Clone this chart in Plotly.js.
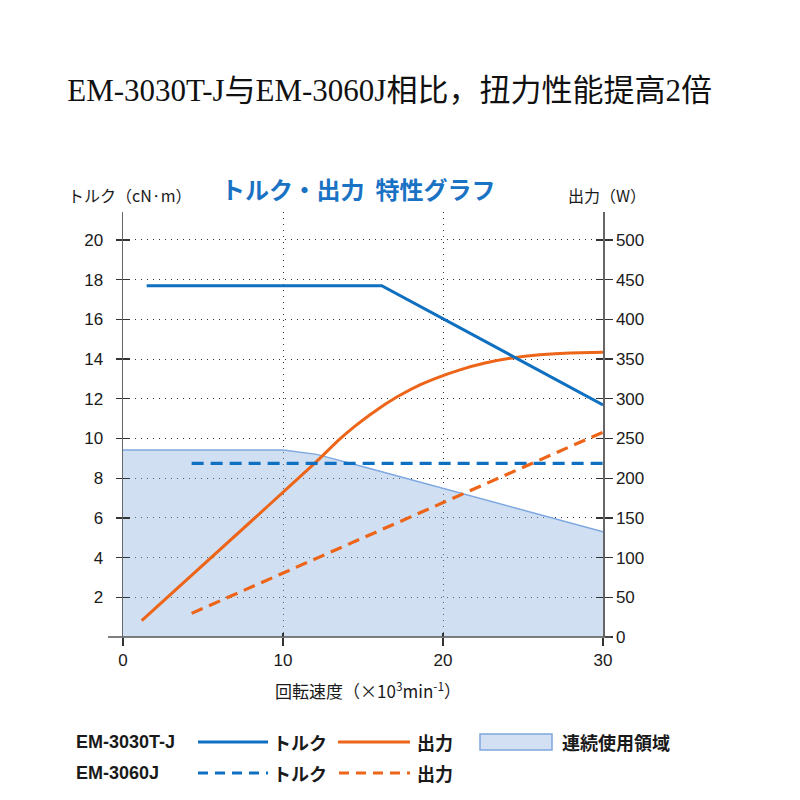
<!DOCTYPE html>
<html>
<head>
<meta charset="utf-8">
<script src="https://cdn.plot.ly/plotly-3.0.1.min.js"></script>
<style>html,body{margin:0;padding:0;background:#fff;}#chart{width:800px;height:800px;}</style>
</head>
<body>
<div id="chart"></div>
<script>
// ---- data (speed in x10^3 min^-1) ----
var areaSpeed = [0, 10.02, 12.1, 15.02, 30];
var areaTorque = [9.42, 9.42, 9.2, 8.58, 5.3];          // cN·m, continuous duty region

var tqSolidSpeed = [1.48, 16.17, 30];
var tqSolidVal   = [17.7, 17.7, 11.69];                 // EM-3030T-J torque (cN·m)

var pwSolidSpeed = [1.17, 9.06, 11.94, 13.56, 14.5, 15.44, 16.38, 17.31, 18.56, 19.5, 21.06, 22.63, 24.19, 26.06, 27.94, 30];
var pwSolidVal   = [20.5, 165, 218, 249.4, 265.5, 280, 293, 304.5, 317.5, 325.5, 336.5, 345, 351, 355.5, 357.6, 358.6]; // EM-3030T-J output (W)

var tqDashSpeed = [4.29, 30];
var tqDashVal   = [8.75, 8.75];                          // EM-3060J torque (cN·m)

var pwDashSpeed = [4.29, 30];
var pwDashVal   = [29.8, 258];                           // EM-3060J output (W)

var xTicks = [0, 10, 20, 30];
var yLeftTicks = [2, 4, 6, 8, 10, 12, 14, 16, 18, 20];
var yRightTicks = [0, 50, 100, 150, 200, 250, 300, 350, 400, 450, 500];

// ---- style ----
var BLUE = '#0f6fc0';
var ORANGE = '#ec6519';
var TXT = '#1a1a1a';
var SANS = 'Liberation Sans, Arial, sans-serif';
var JP = 'Noto Sans CJK JP, Noto Sans CJK SC, sans-serif';
var yMax = 21.41;
var y2Max = yMax * 25;

var traces = [
  {x: areaSpeed, y: areaTorque, xaxis: 'x', yaxis: 'y', type: 'scatter', mode: 'lines',
   fill: 'tozeroy', fillcolor: 'rgba(140,175,226,0.4)',
   line: {color: 'rgb(125,168,224)', width: 1.5}, hoverinfo: 'skip'},
  {x: tqDashSpeed, y: tqDashVal, xaxis: 'x2', yaxis: 'y3', type: 'scatter', mode: 'lines',
   line: {color: BLUE, width: 3.2, dash: '12px,7px'}},
  {x: pwDashSpeed, y: pwDashVal, xaxis: 'x2', yaxis: 'y4', type: 'scatter', mode: 'lines',
   line: {color: ORANGE, width: 3.2, dash: '12px,7px'}},
  {x: pwSolidSpeed, y: pwSolidVal, xaxis: 'x', yaxis: 'y2', type: 'scatter', mode: 'lines',
   line: {color: ORANGE, width: 3, shape: 'spline', smoothing: 0.3}},
  {x: tqSolidSpeed, y: tqSolidVal, xaxis: 'x2', yaxis: 'y3', type: 'scatter', mode: 'lines',
   line: {color: BLUE, width: 3}}
];

function pxX(p) { return (p - 123) / 480; }
function pxY(p) { return (637 - p) / 425; }

function note(text, px, py, anchor, font) {
  return {text: text, x: pxX(px), y: pxY(py), xref: 'paper', yref: 'paper', showarrow: false,
          xanchor: anchor, yanchor: 'middle', font: font};
}
var legJP = {family: JP, size: 18, color: TXT, weight: 'bold'};
var legEN = {family: SANS, size: 18, color: TXT, weight: 'bold'};

var ann = [
  note('トルク・出力  特性グラフ', 358, 188, 'center', {family: JP, size: 24, color: '#1a72c4', weight: 'bold'}),
  note('トルク（cN·m）', 66, 195, 'left', {family: JP, size: 16, color: TXT}),
  note('出力（W）', 566, 195, 'left', {family: JP, size: 16, color: TXT}),
  note('回転速度（×10<sup>3</sup>min<sup>-1</sup>）', 368, 690, 'center', {family: JP, size: 17, color: TXT}),
  note('EM-3030T-J', 74, 742, 'left', legEN),
  note('EM-3060J', 74, 773, 'left', legEN),
  note('トルク', 271, 742, 'left', legJP),
  note('トルク', 271, 773, 'left', legJP),
  note('出力', 415, 742, 'left', legJP),
  note('出力', 415, 773, 'left', legJP),
  note('連続使用領域', 560, 742, 'left', legJP)
];

var shapes = [
  // x axis baseline (extends a little past both y axes)
  {type: 'line', xref: 'paper', yref: 'paper', x0: pxX(108), x1: pxX(611), y0: 0, y1: 0,
   line: {color: '#555', width: 1.5}},
  // legend samples
  {type: 'line', xref: 'paper', yref: 'paper', x0: pxX(198), x1: pxX(268), y0: pxY(742), y1: pxY(742),
   line: {color: BLUE, width: 3}},
  {type: 'line', xref: 'paper', yref: 'paper', x0: pxX(338), x1: pxX(410), y0: pxY(742), y1: pxY(742),
   line: {color: ORANGE, width: 3}},
  {type: 'line', xref: 'paper', yref: 'paper', x0: pxX(198), x1: pxX(268), y0: pxY(773), y1: pxY(773),
   line: {color: BLUE, width: 3, dash: '10px,7px'}},
  {type: 'line', xref: 'paper', yref: 'paper', x0: pxX(339), x1: pxX(410), y0: pxY(773), y1: pxY(773),
   line: {color: ORANGE, width: 3, dash: '10px,7px'}},
  {type: 'rect', xref: 'paper', yref: 'paper', x0: pxX(480), x1: pxX(552), y0: pxY(734), y1: pxY(750),
   fillcolor: 'rgb(211,223,242)', line: {color: 'rgb(125,168,224)', width: 1.5}}
];

var cjk = function (s) { return '<span style="font-family:\'Noto Sans CJK SC\';font-size:31px">' + s + '</span>'; };

var layout = {
  width: 800, height: 800,
  margin: {l: 123, r: 197, t: 212, b: 163, pad: 0},
  paper_bgcolor: '#fff', plot_bgcolor: 'rgba(0,0,0,0)',
  showlegend: false,
  title: {
    text: 'EM-3030T-J' + cjk('与') + 'EM-3060J' + cjk('相比，扭力性能提高') + '2' + cjk('倍'),
    x: 0.487, xanchor: 'center', xref: 'container',
    y: 1 - 90 / 800, yanchor: 'middle', yref: 'container',
    font: {family: 'Liberation Serif, Noto Sans CJK SC, serif', size: 31, color: '#111'}
  },
  xaxis: {
    range: [0, 30], tickvals: xTicks, ticks: 'outside', ticklen: 8, tickwidth: 1.2, tickcolor: '#333',
    showline: false, zeroline: false, showgrid: true, gridcolor: '#333', griddash: '1px,5px', gridwidth: 1,
    tickfont: {family: SANS, size: 17, color: TXT}, fixedrange: true
  },
  xaxis2: {
    range: [0, 30], overlaying: 'x', anchor: 'y', side: 'bottom', tickvals: xTicks,
    ticks: 'inside', ticklen: 4, tickwidth: 1.2, tickcolor: '#333',
    showticklabels: false, showline: false, showgrid: false, zeroline: false
  },
  yaxis: {
    range: [0, yMax], tickvals: yLeftTicks, ticks: 'outside', ticklen: 6, tickwidth: 1.2, tickcolor: '#333',
    ticklabelstandoff: 9,
    showline: true, linecolor: '#666', linewidth: 1.5, zeroline: false,
    showgrid: true, gridcolor: '#333', griddash: '1px,5px', gridwidth: 1,
    tickfont: {family: SANS, size: 17, color: TXT}, fixedrange: true
  },
  yaxis2: {
    range: [0, y2Max], overlaying: 'y', side: 'right', anchor: 'x', tickvals: yRightTicks,
    ticks: 'outside', ticklen: 8, tickwidth: 1.2, tickcolor: '#333',
    showline: true, linecolor: '#666', linewidth: 1.5, zeroline: false, showgrid: false,
    tickfont: {family: SANS, size: 17, color: TXT}
  },
  yaxis3: {
    range: [0, yMax], overlaying: 'y', side: 'left', anchor: 'x', tickvals: yLeftTicks,
    ticks: 'inside', ticklen: 7, tickwidth: 1.2, tickcolor: '#333',
    showticklabels: false, showline: false, showgrid: false, zeroline: false
  },
  yaxis4: {
    range: [0, y2Max], overlaying: 'y', side: 'right', anchor: 'x', tickvals: yRightTicks,
    ticks: 'inside', ticklen: 7, tickwidth: 1.2, tickcolor: '#333',
    showticklabels: false, showline: false, showgrid: false, zeroline: false
  },
  annotations: ann,
  shapes: shapes
};

Plotly.newPlot('chart', traces, layout, {displayModeBar: false, staticPlot: true});
</script>
</body>
</html>
